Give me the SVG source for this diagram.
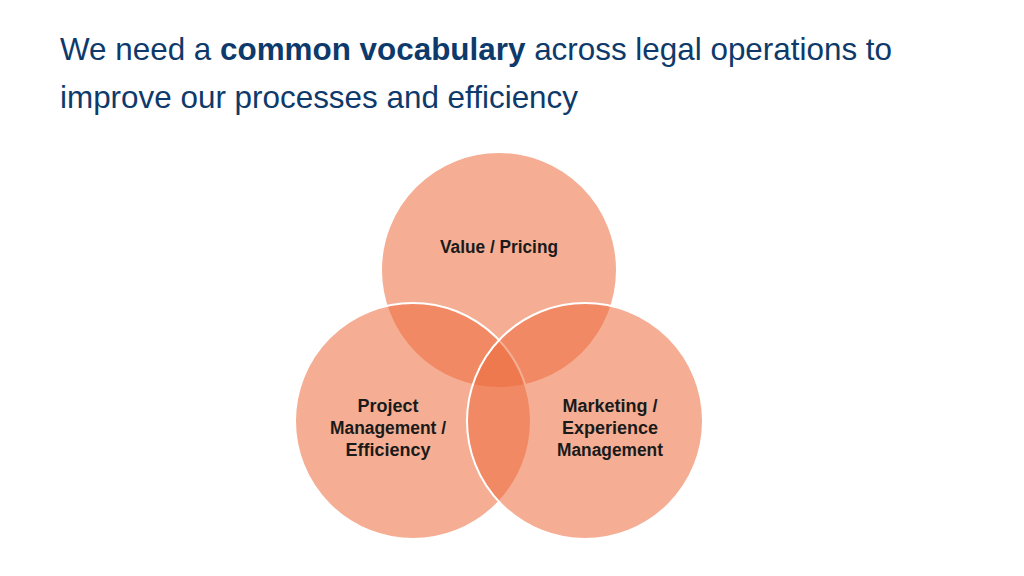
<svg xmlns="http://www.w3.org/2000/svg" width="1024" height="576" viewBox="0 0 1024 576">
<style>
.t{font-family:"Liberation Sans",Arial,sans-serif;font-size:32px;fill:#0E3A6B}
.c{fill:#ED6B3D;fill-opacity:0.55;stroke:#fff;stroke-width:2}
.l{font-family:"Liberation Sans",Arial,sans-serif;font-size:18px;font-weight:bold;fill:#1a1a1a;text-anchor:middle}
</style>
<rect width="1024" height="576" fill="#fff"/>
<text class="t" x="60" y="60" textLength="832" lengthAdjust="spacingAndGlyphs">We need a <tspan font-weight="bold">common vocabulary</tspan> across legal operations to</text>
<text class="t" x="60" y="108" textLength="518" lengthAdjust="spacingAndGlyphs">improve our processes and efficiency</text>
<g id="value"><circle class="c" cx="499" cy="270" r="118"/><text class="l" x="499" y="253" textLength="118" lengthAdjust="spacingAndGlyphs">Value / Pricing</text></g>
<g id="project"><circle class="c" cx="413" cy="421" r="118"/><text class="l" x="388" y="412">Project</text><text class="l" x="388" y="434" textLength="116" lengthAdjust="spacingAndGlyphs">Management /</text><text class="l" x="388" y="456">Efficiency</text></g>
<g id="marketing"><circle class="c" cx="585" cy="421" r="118"/><text class="l" x="610" y="412">Marketing /</text><text class="l" x="610" y="434">Experience</text><text class="l" x="610" y="456" textLength="106" lengthAdjust="spacingAndGlyphs">Management</text></g>
<g id="connectors"/>
</svg>
